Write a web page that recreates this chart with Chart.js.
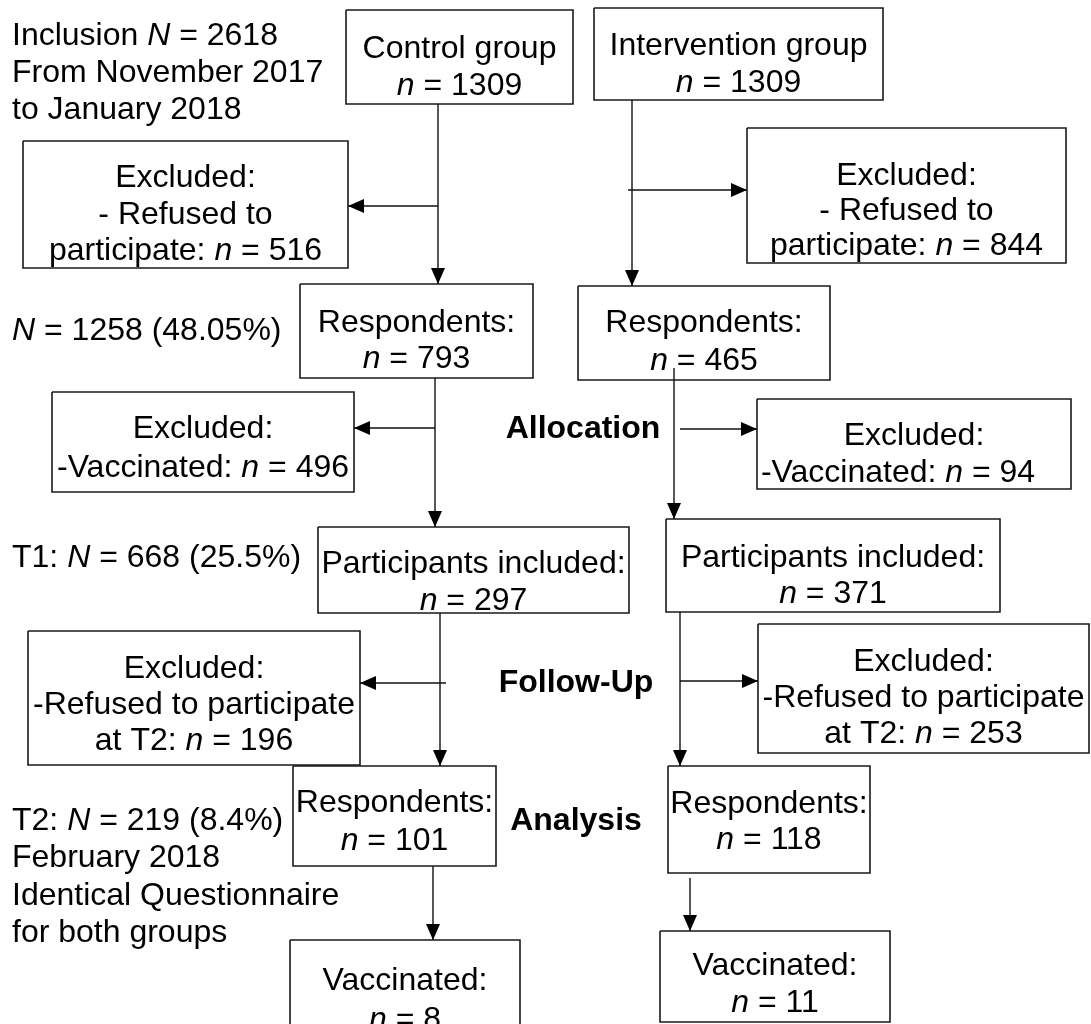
<!DOCTYPE html>
<html lang="en">
<head>
    <meta charset="UTF-8">
    <title>Study flow chart</title>
    <script src="https://cdn.jsdelivr.net/npm/chart.js"></script>
    <style>
        html, body { margin: 0; padding: 0; background: #ffffff; }
        #wrap { width: 1091px; height: 1024px; position: relative; }
    </style>
</head>
<body>
    <div id="wrap"><canvas id="flow"></canvas></div>

    <script>
        // ---- data ----
        const groupNames = ['Control group', 'Intervention group'];
        const groupN = [1309, 1309];
        const refusedN = [516, 844];
        const respondentsN = [793, 465];
        const vaccinatedExcludedN = [496, 94];
        const participantsN = [297, 371];
        const refusedT2N = [196, 253];
        const respondentsT2N = [101, 118];
        const vaccinatedN = [8, 11];
        const inclusionN = 2618;
        const stageTotals = [1258, 668, 219];
        const stagePercents = ['48.05%', '25.5%', '8.4%'];
        const stageLabels = ['Allocation', 'Follow-Up', 'Analysis'];

        // ---- layout (pixel space of the 1091 x 1024 figure) ----
        const FONT = '"Liberation Sans", Arial, sans-serif';
        const SIZE = 32;

        const nEq = v => [['n', true], [' = ' + v]];
        const NEq = v => [['N', true], [' = ' + v]];

        // each box: rect [x0, y0, x1, y1], text lines, baselines, optional line centres
        const boxes = [
            { r: [346, 10, 573, 104], lines: [[[groupNames[0]]], nEq(groupN[0])], base: [58, 95] },
            { r: [594, 8, 883, 100], lines: [[[groupNames[1]]], nEq(groupN[1])], base: [55, 92] },
            { r: [23, 141, 348, 268], lines: [[['Excluded:']], [['- Refused to']], [['participate: '], ...nEq(refusedN[0])]], base: [187, 224, 260] },
            { r: [747, 128, 1066, 263], lines: [[['Excluded:']], [['- Refused to']], [['participate: '], ...nEq(refusedN[1])]], base: [185, 220, 255] },
            { r: [300, 284, 533, 378], lines: [[['Respondents:']], nEq(respondentsN[0])], base: [332, 368] },
            { r: [578, 286, 830, 380], lines: [[['Respondents:']], nEq(respondentsN[1])], base: [332, 370] },
            { r: [52, 392, 354, 492], lines: [[['Excluded:']], [['-Vaccinated: '], ...nEq(vaccinatedExcludedN[0])]], base: [438, 477] },
            { r: [757, 399, 1071, 489], lines: [[['Excluded:']], [['-Vaccinated: '], ...nEq(vaccinatedExcludedN[1])]], base: [445, 482], cx: [null, 898] },
            { r: [318, 527, 629, 613], lines: [[['Participants included:']], nEq(participantsN[0])], base: [573, 610] },
            { r: [666, 519, 1000, 612], lines: [[['Participants included:']], nEq(participantsN[1])], base: [567, 603] },
            { r: [28, 631, 360, 765], lines: [[['Excluded:']], [['-Refused to participate']], [['at T2: '], ...nEq(refusedT2N[0])]], base: [678, 714, 750] },
            { r: [758, 624, 1089, 753], lines: [[['Excluded:']], [['-Refused to participate']], [['at T2: '], ...nEq(refusedT2N[1])]], base: [671, 707, 743] },
            { r: [293, 766, 496, 866], lines: [[['Respondents:']], nEq(respondentsT2N[0])], base: [812, 850] },
            { r: [668, 766, 870, 873], lines: [[['Respondents:']], nEq(respondentsT2N[1])], base: [813, 849] },
            { r: [290, 940, 520, 1064], lines: [[['Vaccinated:']], nEq(vaccinatedN[0])], base: [990, 1029] },
            { r: [660, 931, 890, 1022], lines: [[['Vaccinated:']], nEq(vaccinatedN[1])], base: [975, 1012] }
        ];

        // arrows: from (x1, y1) to (x2, y2), head at the end
        const arrows = [
            [438, 104, 438, 284], [438, 206, 348, 206],
            [435, 378, 435, 527], [435, 428, 354, 428],
            [440, 613, 440, 766], [446, 683, 360, 683],
            [433, 866, 433, 940],
            [632, 100, 632, 286], [628, 190, 747, 190],
            [674, 368, 674, 519], [680, 429, 757, 429],
            [680, 612, 680, 766], [680, 681, 758, 681],
            [690, 878, 690, 931]
        ];

        const sideNotes = [
            { parts: [['Inclusion '], ...NEq(inclusionN)], y: 45 },
            { parts: [['From November 2017']], y: 82 },
            { parts: [['to January 2018']], y: 119 },
            { parts: [...NEq(stageTotals[0]), [' (' + stagePercents[0] + ')']], y: 340 },
            { parts: [['T1: '], ...NEq(stageTotals[1]), [' (' + stagePercents[1] + ')']], y: 567 },
            { parts: [['T2: '], ...NEq(stageTotals[2]), [' (' + stagePercents[2] + ')']], y: 830 },
            { parts: [['February 2018']], y: 867 },
            { parts: [['Identical Questionnaire']], y: 905 },
            { parts: [['for both groups']], y: 942 }
        ];
        const stagePos = [[583, 438], [576, 692], [576, 830]];

        // ---- datasets: box outlines and arrow shafts ----
        const datasets = [];
        boxes.forEach(b => {
            const [x0, y0, x1, y1] = b.r;
            datasets.push({
                data: [{ x: x0, y: y0 }, { x: x1, y: y0 }, { x: x1, y: y1 }, { x: x0, y: y1 }, { x: x0, y: y0 }],
                showLine: true, borderColor: '#1a1a1a', borderWidth: 1.6,
                pointRadius: 0, borderJoinStyle: 'miter', clip: false
            });
        });
        arrows.forEach(a => {
            datasets.push({
                data: [{ x: a[0], y: a[1] }, { x: a[2], y: a[3] }],
                showLine: true, borderColor: '#111111', borderWidth: 1.4,
                pointRadius: 0, clip: false
            });
        });

        function drawRich(ctx, parts, x, y, align, bold) {
            const fonts = parts.map(p => (p[1] ? 'italic ' : '') + (bold ? 'bold ' : '') + SIZE + 'px ' + FONT);
            const widths = parts.map((p, i) => { ctx.font = fonts[i]; return ctx.measureText(p[0]).width; });
            const total = widths.reduce((s, w) => s + w, 0);
            let cur = align === 'left' ? x : x - total / 2;
            parts.forEach((p, i) => {
                ctx.font = fonts[i];
                ctx.fillText(p[0], cur, y);
                cur += widths[i];
            });
        }

        const flowText = {
            id: 'flowText',
            afterDatasetsDraw(chart) {
                const ctx = chart.ctx;
                const sx = v => chart.scales.x.getPixelForValue(v);
                const sy = v => chart.scales.y.getPixelForValue(v);
                ctx.save();
                ctx.fillStyle = '#000000';
                ctx.textBaseline = 'alphabetic';
                ctx.textAlign = 'left';

                // arrow heads
                arrows.forEach(a => {
                    const x2 = sx(a[2]), y2 = sy(a[3]);
                    const ang = Math.atan2(y2 - sy(a[1]), x2 - sx(a[0]));
                    const len = 16, half = 7;
                    ctx.beginPath();
                    ctx.moveTo(x2, y2);
                    ctx.lineTo(x2 - len * Math.cos(ang) + half * Math.sin(ang), y2 - len * Math.sin(ang) - half * Math.cos(ang));
                    ctx.lineTo(x2 - len * Math.cos(ang) - half * Math.sin(ang), y2 - len * Math.sin(ang) + half * Math.cos(ang));
                    ctx.closePath();
                    ctx.fill();
                });

                // box texts
                boxes.forEach(b => {
                    const cx = (b.r[0] + b.r[2]) / 2;
                    b.lines.forEach((line, i) => {
                        const c = b.cx && b.cx[i] ? b.cx[i] : cx;
                        drawRich(ctx, line, sx(c), sy(b.base[i]), 'center', false);
                    });
                });

                // notes on the left
                sideNotes.forEach(n => drawRich(ctx, n.parts, sx(12), sy(n.y), 'left', false));

                // stage labels
                stageLabels.forEach((s, i) => drawRich(ctx, [[s]], sx(stagePos[i][0]), sy(stagePos[i][1]), 'center', true));
                ctx.restore();
            }
        };

        new Chart(document.getElementById('flow'), {
            type: 'scatter',
            data: { datasets },
            options: {
                responsive: true,
                maintainAspectRatio: false,
                animation: false,
                layout: { padding: 0 },
                plugins: { legend: { display: false }, tooltip: { enabled: false } },
                scales: {
                    x: { type: 'linear', min: 0, max: 1091, display: false },
                    y: { type: 'linear', min: 0, max: 1024, reverse: true, display: false }
                }
            },
            plugins: [flowText]
        });
    </script>
</body>
</html>
